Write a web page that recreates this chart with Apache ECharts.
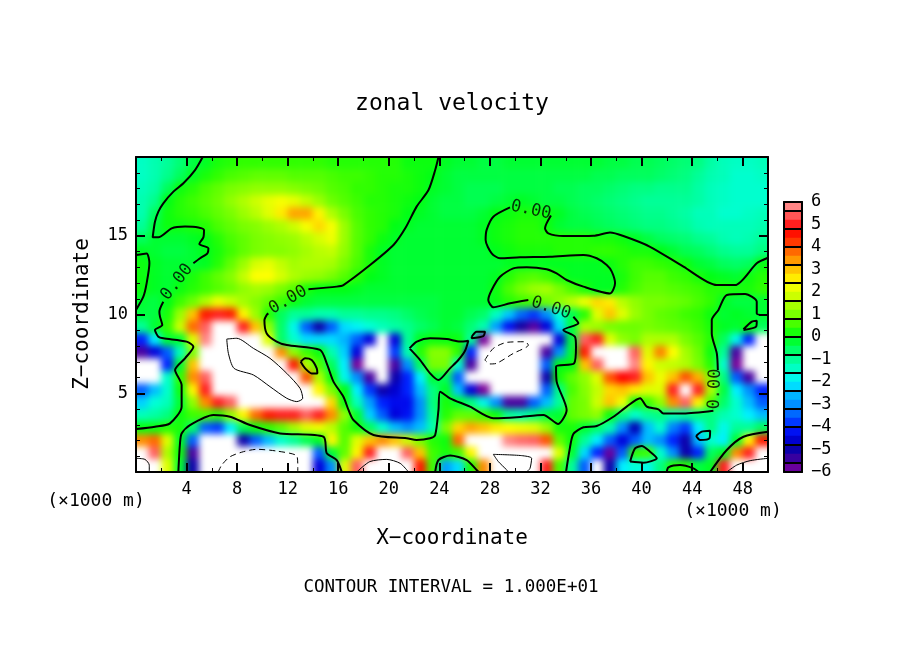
<!DOCTYPE html>
<html>
<head>
<meta charset="utf-8">
<style>html,body{margin:0;padding:0;background:#fff}#chart{width:904px;height:654px}</style>
<script src="https://cdn.jsdelivr.net/npm/echarts@6/dist/echarts.min.js"></script>
</head>
<body>
<div id="chart"></div>
<script>
// cell centres, 1 km wide and 0.8 km high
const xCentres = [];
for (let i = 0; i < 50; i++) xCentres.push(i + 0.5);
const zCentres = [19.6,18.8,18,17.2,16.4,15.6,14.8,14,13.2,12.4,11.6,10.8,10,9.2,8.4,7.6,6.8,6,5.2,4.4,3.6,2.8,2,1.2,0.4];

// velocity, one row per height (over 6 in size draws white)
const z196 = [-1.4,-1.2,-1,-.7,-.3,-.1,.2,.3,.4,.4,.4,.4,.4,.4,.4,.3,.3,.3,.3,.3,.3,.1,.1,.1,-.1,-.2,-.2,-.3,-.3,-.2,-.2,-.2,-.2,-.2,-.2,-.2,-.2,-.3,-.3,-.4,-.4,-.5,-.6,-.7,-.8,-1.1,-1.3,-1.4,-1.4,-1.3];
const z188 = [-1.4,-1.2,-.9,-.5,-.1,.2,.4,.6,.7,.8,.8,.8,.7,.7,.7,.6,.5,.5,.4,.3,.3,.2,.1,0,-.2,-.3,-.3,-.3,-.3,-.3,-.3,-.3,-.3,-.3,-.3,-.3,-.4,-.4,-.5,-.5,-.5,-.6,-.7,-.8,-1,-1.2,-1.3,-1.5,-1.5,-1.4];
const z180 = [-1.3,-1.1,-.5,.1,.3,.6,.8,1,1.1,1.2,1.2,1.2,1.1,1,.9,.7,.6,.4,.4,.3,.2,.2,.1,-.1,-.2,-.3,-.4,-.4,-.4,-.3,-.3,-.3,-.3,-.4,-.4,-.5,-.5,-.6,-.7,-.8,-.8,-.9,-.9,-.9,-1.1,-1.3,-1.4,-1.5,-1.5,-1.5];
const z172 = [-1.2,-.9,0,.3,.5,.7,.9,1.2,1.5,1.8,2.1,2.3,2.1,1.7,1.3,.9,.7,.5,.3,.3,.2,.1,0,-.2,-.3,-.3,-.4,-.4,-.3,-.2,-.1,-.2,-.3,-.3,-.4,-.5,-.6,-.7,-.8,-.9,-1,-1,-1,-1,-1.1,-1.3,-1.4,-1.5,-1.5,-1.5];
const z164 = [-1.2,-.5,.1,.3,.4,.6,.8,1,1.3,1.6,2,2.6,3.3,3.3,2.5,1.5,1,.6,.4,.3,.2,0,-.1,-.2,-.3,-.3,-.3,-.2,0,.1,.2,.2,.1,-.1,-.3,-.4,-.5,-.6,-.7,-.8,-.9,-.9,-1,-1.1,-1.3,-1.3,-1.5,-1.5,-1.4,-1.3];
const z156 = [-1,-.3,.1,.1,.2,.3,.6,.8,1,1.1,1.3,1.5,1.8,2.3,2.8,2.3,1.3,.7,.4,.3,0,-.1,-.2,-.2,-.2,-.2,-.2,-.1,.1,.2,.3,.3,.1,-.2,-.3,-.3,-.4,-.5,-.6,-.7,-.8,-.8,-.9,-1,-1.2,-1.3,-1.3,-1.3,-1.3,-1.2];
const z148 = [-.5,-.2,-.2,-.2,-.1,0,.3,.6,.8,1,1.1,1.2,1.3,1.6,1.9,2.2,1.3,.7,.4,.1,-.1,-.2,-.2,-.2,-.2,-.2,-.2,-.1,.1,.2,.3,.3,.3,.3,.3,.3,.2,.2,.1,-.1,-.3,-.5,-.6,-.7,-.9,-1,-1.2,-1.3,-1.2,-1];
const z140 = [-.1,-.2,-.3,-.3,-.2,-.05,.2,.5,.8,1,1.1,1.1,1.2,1.4,1.6,1.7,1.2,.7,.2,-.1,-.2,-.2,-.2,-.2,-.2,-.2,-.2,-.2,-.05,.1,.2,.2,.2,.3,.3,.3,.4,.4,.3,.2,.2,0,-.2,-.4,-.5,-.7,-.9,-1,-1,-.8];
const z132 = [.1,-.1,-.2,-.2,-.2,-.1,.3,.8,1.3,1.9,2.1,1.7,1.4,1.5,1.5,1.4,1,.6,.2,-.1,-.2,-.2,-.2,-.2,-.2,-.2,-.2,-.2,-.2,-.1,-.1,-.1,-.1,-.1,-.1,-.1,-.1,.1,.3,.5,.5,.4,.3,.1,-.2,-.3,-.5,-.6,-.5,.05];
const z124 = [.1,-.1,-.2,-.1,.2,.5,.8,1.1,1.7,2.4,2.4,1.9,1.5,1.3,1.2,1,.7,.3,0,-.1,-.2,-.2,-.2,-.2,-.2,-.2,-.2,-.2,-.1,.3,.6,.7,.5,.2,-.1,-.1,-.1,-.1,.2,.5,.7,.7,.5,.4,.2,0,-.1,-.2,.1,.3];
const z116 = [.1,-.1,-.2,.1,.3,.5,.7,.9,1.2,1.4,1.3,1,.7,.2,0,0,0,-.1,-.2,-.2,-.2,-.2,-.2,-.2,-.2,-.2,-.2,-.2,.1,.6,1,1.3,1.4,1,.6,.2,-.1,-.1,.3,.6,.8,.8,.7,.6,.5,.3,.3,.2,.2,.4];
const z108 = [-.2,-.3,0,.5,.9,1.5,2.2,1.8,1.4,1.1,.8,.5,.1,-.2,-.3,-.3,-.3,-.3,-.3,-.3,-.3,-.3,-.3,-.3,-.2,-.2,-.2,-.2,.05,.3,.5,.6,.9,1.2,1.6,2.2,2.8,2.6,1.6,1.2,1,1,.9,.8,.6,.4,-.1,-.3,-.3,-.2];
const z100 = [-.3,-.3,.2,1.3,3,4.5,5,4.5,2.5,1.3,.3,-.5,-1,-1,-1.2,-1.2,-1,-1,-.9,-.9,-.8,-.6,-.4,-.3,-.2,-.2,-.4,-.6,-1.4,-2.4,-3.4,-3.8,-3,-1.6,-.4,.3,2,3,2,1.3,1,.8,.7,.5,.4,.1,-.2,-.1,-.2,-.2];
const z92 = [-1,-.2,.4,1.8,3.8,5.5,7,7,5,3,1.2,-.6,-1.8,-3.5,-5,-3.5,-2.2,-1.9,-1.6,-1.3,-1.1,-.9,-.6,-.4,-.2,-.3,-.7,-1.2,-2.8,-4.2,-5.2,-5.6,-4.5,-2.2,-.3,1.5,1.3,1,.9,.9,1,.9,.8,.7,.5,.2,-.1,-.2,.1,-.5];
const z84 = [-4,-2,-.2,-.2,2,5.8,7,7,7,6.2,2,-.6,-1.5,-2.2,-2.2,-2.2,-2.6,-3.5,-4.5,-6.5,-4.5,-1,-.1,.1,.05,.1,-1,-6,-7,-7,-7,-7,-7,-4.5,-.3,5.5,5,2,1.2,1,1.5,1.5,1.5,1,.7,.3,-.5,-1.8,-4,-6.5];
const z76 = [-5.5,-4.5,-3.5,-1.3,1,6.2,7,7,7,7,6.2,3.5,1.2,.5,.1,-1.2,-2.3,-4.5,-7,-7,-3.8,-1.2,.3,1.1,1.1,.4,-4,-6.5,-7,-7,-7,-7,-5.5,-3,-.2,4.5,7,7,7,5.5,2,3.6,2.4,1.4,.9,.1,-1,-5.5,-7,-7];
const z68 = [-7,-7,-4,-.2,3,7,7,7,7,7,7,7,4.5,1.5,.6,-.5,-2,-6,-7,-7,-5.5,-3,-.5,1,1,-1.5,-5.5,-7,-7,-7,-7,-6.5,-3.5,0,0,3,5.5,6.2,6.2,5.8,2.5,1.8,1.7,1.5,1,.3,-1.5,-6,-7,-7];
const z60 = [-7,-6.3,-1.5,.4,3.5,5.5,7,7,7,7,7,7,7,4,1.5,.1,-1.8,-3,-5.5,-6.3,-5,-4,-2,-.2,-.5,-3.5,-7,-7,-7,-7,-7,-7,-5,.2,.8,1.2,2,4,4.8,5,3,2.2,3,4,3.2,1,-.8,-3.5,-5.5,-6.5];
const z52 = [-3.5,-2.5,-1.5,.1,2.5,5,7,7,7,7,7,7,7,7,2.5,1,0,-2,-3.8,-5,-4.6,-4,-2.5,-.8,-.1,-2.5,-4.5,-6,-7,-7,-7,-6.5,-3.5,-.8,.6,1.1,1.7,2.8,3,2.6,2,2,5,7,5,1.5,-.3,-2,-3,-4];
const z44 = [-2.3,-1.6,-1.3,-.2,1.2,3.5,5,5.5,6.3,7,7,7,7,7,7,2.8,.1,-1.3,-2.8,-4,-4.3,-4.3,-3,-.8,.2,-.2,-.8,-1.8,-3,-5.5,-5.5,-3.5,-2.5,-1,.8,1,1.8,3,2.2,.1,.5,1.2,3.5,5.5,2.5,.6,-.6,-1.5,-2.5,-3.5];
const z36 = [-1.3,-1.1,-.8,.1,.5,.6,.3,1.2,2.5,3.8,4.5,5,5,5.5,5,3.5,1.2,-.2,-2.3,-3.5,-4.5,-4.2,-3,-1,.3,.8,.8,.5,.1,-1,-1.2,-.8,-.3,-.2,.8,1,1.2,.1,-.8,-1.5,-1,-.8,-1.2,-1,-.8,-.8,-1.2,-1.5,-2,-2.5];
const z28 = [.05,.1,.3,.2,-.6,-3.5,-3.8,-2,-.4,.1,.4,.8,1.4,2,2.2,1.6,.7,.2,-.5,-1.5,-2.5,-3,-2.5,-1.2,1,2.8,3.3,3,2.6,2.4,2.2,2,1.3,.2,.2,-.2,-.6,-1.2,-3,-4.8,-2.5,-1.5,-3.2,-3.8,-2,-.8,-1.8,-1,-1,-.5];
const z20 = [3.5,3.8,2,-.1,-3.5,-6.5,-7,-7,-5,-3.5,-2.5,-1.5,-1,-.4,-.1,2.5,.7,2,3,3.5,3,1.8,1,.3,.1,3.8,6.3,7,6.2,5.8,5.6,5.5,4,.8,.1,-1,-2,-3.5,-4.5,-3.5,-2.5,-3,-4,-5,-2.5,-1.5,-2,-.2,2.5,4.5];
const z12 = [7,5.5,1.5,.1,-5.5,-7,-7,-7,-7,-7,-7,-7,-7,-7,-3.5,-.2,.8,2.5,5,6.5,6.5,5.5,3,.5,.2,.5,2.5,7,7,7,7,7,6.5,2,-.2,-2.2,-4,-5.8,-3.5,.4,.5,-1.5,-3,-5,-4,-.5,-.1,3.5,5,6.2];
const z4 = [7,6.5,2,-.2,-5,-6.2,-7,-7,-7,-7,-7,-7,-7,-6.5,-4.5,-3,2,5.5,7,7,7,6.8,4.5,.5,-2.8,-2.2,.2,3.5,6.5,7,7,7,5,.6,-1,-3.5,-7,-5,-2,-1.6,-1.8,-.8,.3,.3,-.3,-.1,5,7,7,7];
const rows = [z196,z188,z180,z172,z164,z156,z148,z140,z132,z124,z116,z108,z100,z92,z84,z76,z68,z60,z52,z44,z36,z28,z20,z12,z4];

// zero contours, [x km, z km]
const zeroLeftTop = [[5.28,20],[4.67,19.17],[3.75,18.33],[2.96,17.8],[2.16,17.06],[1.77,16.53],[1.5,15.89],[1.32,14.9],[1.77,14.9],[2.82,15.47],[3.88,15.58],[4.93,15.53],[5.38,15.37],[5.33,14.9],[5.01,14.48],[5.73,14.2],[5.65,13.88],[5.07,13.57],[4.54,13.25]];
const zeroLeftLow = [[2.16,10.81],[1.85,10.18],[1.9,9.86],[2.08,9.33],[1.5,9.02],[1.77,8.59],[2.16,8.49],[4,8.28],[4.54,7.96],[3.88,7.22],[3.09,6.48],[3.61,5.52],[3.61,4.15],[2.69,3.09],[1.5,2.88],[0,2.73]];
const zeroEdge = [[0,13.78],[.84,13.88],[1.06,13.25],[.84,11.98],[.58,11.13],[0,10.29]];
const zeroTop = [[23.93,20],[23.67,19.17],[23.14,17.9],[22.2,16.85],[21.3,15.47],[20.37,14.41],[18.52,13.14],[16.41,11.87],[15.88,11.77],[13.64,11.6]];
const zeroMiddle = [[10.47,10.07],[10.34,9.97],[10.16,9.65],[10.34,8.8],[11.13,8.28],[11.93,8.06],[14.56,7.75],[15.09,6.9],[15.62,5.74],[16.41,4.78],[16.81,3.94],[17.2,3.3],[18.79,2.35],[21.42,2.14],[22.2,2.03],[23.27,2.14],[23.67,2.35],[23.93,3.94],[24.06,5.1],[24.84,4.68],[26.42,4.15],[28.27,3.41],[30.12,3.47],[32.23,3.62],[33.4,3.05],[34.07,3.94],[33.28,5.74],[33.23,6.69],[34.66,6.9],[34.81,7.96],[34.73,8.59],[33.81,9.02],[35,9.44],[34.6,9.86]];
const zeroHook = [[31.04,10.92],[29.59,10.71],[28.27,10.46],[27.87,10.92],[28.14,11.56],[28.8,12.4],[29.85,12.93],[30.91,13],[32.49,12.87],[33.28,12.61],[34.07,12.19],[35.4,11.77],[37.5,11.34],[37.9,11.98],[37.64,12.72],[37.24,13.14],[36.45,13.57],[35.4,13.78],[32.76,13.67],[30.38,13.63],[28.8,13.57],[28.14,13.88],[27.66,14.73],[27.74,15.37],[28.27,16.21],[29.59,16.8]];
const zeroRight = [[32.83,16.28],[32.36,15.47],[32.62,15.15],[33.81,14.98],[36.19,15],[37.5,15.2],[38.56,14.98],[40.67,14.3],[43.31,13.04],[45.95,11.87],[47.4,11.87],[49.11,13.25],[50,13.6]];
const zeroNotch = [[50,9.97],[49.11,10.07],[49.11,10.81],[48.19,11.3],[46.74,11.24],[46.08,10.29],[45.55,9.65],[45.55,8.8],[45.95,7.53],[46.03,6.48]];
const zeroLower = [[45.68,3.89],[43.31,3.72],[41.73,3.72],[41.33,3.98],[40.41,4.15],[39.88,4.68],[38.82,4.15],[37.77,3.51],[36.45,2.92],[35.4,2.84],[34.6,2.41],[34.3,1.4],[34.02,0]];
const zeroArcLeft = [[3.35,0],[3.48,1.82],[3.61,2.45],[4.27,2.98],[6.12,3.62],[7.44,3.51],[9.02,2.98],[11.4,2.45],[14.83,2.24],[15.09,1.19],[15.88,.76],[16.28,0]];
const zeroFoot = [[23.67,0],[23.93,.76],[24.85,1.04],[26.16,.76],[26.95,.13],[27.1,0]];
const zeroRightArc = [[45.42,0],[46.74,1.4],[48.06,2.24],[50,2.56]];
const lensA = [[13.03,7],[13.38,7.22],[13.9,7.11],[14.3,6.58],[14.35,6.26],[13.9,6.26],[13.38,6.58],[13.03,7]];
const lensB = [[21.64,7.85],[22.22,8.28],[23.27,8.49],[24.59,8.44],[25.63,8.28],[26.29,8.34],[26.03,7.7],[25.5,7.11],[24.84,6.58],[23.93,5.84],[23.27,6.26],[22.48,7.11],[21.64,7.85]];
const lensC = [[26.56,8.59],[26.95,8.91],[27.61,8.91],[27.48,8.63],[26.56,8.49],[26.56,8.59]];
const lensD = [[48.06,9.06],[48.72,9.55],[49.11,9.61],[49.06,9.23],[48.06,9.02],[48.06,9.06]];
const lensE = [[44.31,2.29],[44.76,2.56],[45.42,2.62],[45.37,2.14],[44.63,2.03],[44.31,2.29]];
const lensF = [[39.09,.66],[39.48,1.5],[40.01,1.65],[40.67,1.29],[41.2,.87],[40.14,.59],[39.09,.66]];
const lensG = [[41.99,0],[42.12,.3],[43.05,.44],[44.1,.23],[44.5,0]];
const zeroLines = [zeroLeftTop,zeroLeftLow,zeroEdge,zeroTop,zeroMiddle,zeroHook,zeroRight,zeroNotch,zeroLower,zeroArcLeft,zeroFoot,zeroRightArc,lensA,lensB,lensC,lensD,lensE,lensF,lensG];

// the thin lines inside the white patches
const solidA = [[7.18,8.44],[7.97,8.49],[9.29,7.85],[10.6,7.22],[11.93,6.26],[12.98,5.31],[13.19,4.68],[12.72,4.47],[11.93,4.68],[10.6,5.42],[9.29,6.16],[7.76,6.58],[7.31,7.53],[7.18,8.44]];
const solidB = [[17.47,0],[18.5,.66],[19.84,.8],[20.9,.55],[21.56,0]];
const solidC = [[0,.87],[.71,.8],[1.05,.44],[1.05,0]];
const solidD = [[29.46,0],[29.33,.13],[28.67,.66],[28.27,1.12],[30.51,1.04],[31.3,.87],[31.17,.23],[30.9,0]];
const solidE = [[46.74,0],[47.53,.44],[48.59,.72],[50,.87]];
const thinLines = [solidA,solidB,solidC,solidD,solidE];
const dashedA = [[6.5,0],[6.78,.44],[7.44,.97],[8.5,1.29],[9.55,1.44],[11.13,1.33],[12.72,1.02],[12.8,.34],[12.8,0]];
const dashedB = [[27.6,7.11],[28.27,7.85],[29.33,8.23],[30.78,8.27],[31.04,8.06],[29.85,7.53],[28.53,6.9],[28,6.86],[27.6,7.11]];
const dashLines = [dashedA,dashedB];

// contour labels: x km, z km, turn in degrees
const labelX = [3.24,12.03,31.25,32.83,45.81];
const labelZ = [12.06,10.92,16.63,10.41,5.27];
const labelTurn = [52,30,-12,-18,88];

// colour bar
const barCells = [5.8,5.4,5,4.6,4.2,3.8,3.4,3,2.6,2.2,1.8,1.4,1,.6,.2,-.2,-.6,-1,-1.4,-1.8,-2.2,-2.6,-3,-3.4,-3.8,-4.2,-4.6,-5,-5.4,-5.8];
const barEdges = [5.6,4.8,4,3.2,2.4,1.6,.8,0,-.8,-1.6,-2.4,-3.2,-4,-4.8,-5.6];
const colours = ['#7a0099','#5a00a0','#1800a0','#0000b4','#0000e6','#0020ff','#0050ff','#0080ff','#00a0ff','#00c8ff','#00f0ff','#00ffd8','#00ffb0','#00ff80','#00ff50','#00ff14','#30ff00','#60ff00','#90ff00','#b8ff00','#e0ff00','#ffff00','#ffd800','#ffb000','#ff8000','#ff5000','#ff2000','#ff0000','#ff4040','#ff6c6c','#ffa0a0'];

const FONT = '"DejaVu Sans Mono"';
// two spare cells round the edge so the softening does not fade at the frame
const PAD = 2;
const cellW = 632 / 50, cellH = 315 / 25;
const heatData = [];
const clamp = function (v, hi) { return Math.max(0, Math.min(hi, v)); };
for (let r = -PAD; r < rows.length + PAD; r++) {
  for (let c = -PAD; c < 50 + PAD; c++) {
    heatData.push([c + PAD, rows.length - 1 - r + PAD, rows[clamp(r, rows.length - 1)][clamp(c, 49)]]);
  }
}
const padCats = function (n) {
  const out = [];
  for (let i = 0; i < n + 2 * PAD; i++) out.push(i);
  return out;
};
const barData = barCells.map(function (v, i) { return [0, barCells.length - 1 - i, v]; });
const edgeData = [];
barEdges.forEach(function (v) {
  edgeData.push([0, v], [1, v], [null, null]);
});

function contourSeries(points, width, type) {
  return {
    type: 'line', xAxisIndex: 3, yAxisIndex: 3, data: points, showSymbol: false, symbol: 'none',
    smooth: 0.25, z: 4, silent: true, connectNulls: false,
    lineStyle: {color: '#000', width: width, type: type}
  };
}

function text(str, x, y, size, rotation) {
  return {
    type: 'text', x: x, y: y, rotation: rotation || 0, z: 20,
    style: {text: str, font: size + 'px ' + FONT, fill: '#000', align: 'center', verticalAlign: 'middle'}
  };
}

const series = [
  {type: 'heatmap', xAxisIndex: 0, yAxisIndex: 0, data: heatData, z: 1, zlevel: -1, silent: true,
    itemStyle: {borderWidth: 0}, progressive: 0},
  {type: 'heatmap', xAxisIndex: 1, yAxisIndex: 1, data: barData, z: 1, silent: true, progressive: 0},
  {type: 'line', xAxisIndex: 2, yAxisIndex: 2, data: edgeData, symbol: 'none', z: 4, silent: true,
    lineStyle: {color: '#000', width: 2}}
];
zeroLines.forEach(function (p) { series.push(contourSeries(p, 2, 'solid')); });
thinLines.forEach(function (p) { series.push(contourSeries(p, 1, 'solid')); });
dashLines.forEach(function (p) { series.push(contourSeries(p, 1, [6, 4])); });
series.push({
  type: 'scatter', xAxisIndex: 3, yAxisIndex: 3, symbolSize: 0, z: 5, silent: true,
  data: labelX.map(function (x, i) {
    return {
      value: [x, labelZ[i]],
      label: {show: true, position: 'inside', formatter: '0.00', rotate: labelTurn[i], fontFamily: FONT, fontSize: 17, color: '#000'}
    };
  })
});

const hiddenCat = function (grid, cats) {
  return {type: 'category', gridIndex: grid, data: cats, show: false, boundaryGap: true};
};
const plotLine = {show: true, onZero: false, lineStyle: {color: '#000', width: 2}};
const bigTick = function (len) {
  return {show: true, inside: true, length: len, lineStyle: {color: '#000', width: 2}};
};
const smallTick = function (n) {
  return {show: true, splitNumber: n, length: 4, lineStyle: {color: '#000', width: 1}};
};
const plain = {show: false};

const chart = echarts.init(document.getElementById('chart'));
chart.setOption({
  backgroundColor: '#fff',
  animation: false,
  visualMap: {
    type: 'continuous', show: false, seriesIndex: [0, 1], min: -6.01, max: 6.01, range: [-6, 6], dimension: 2,
    inRange: {color: colours}, outOfRange: {color: '#fff'}
  },
  grid: [
    {left: 136 - PAD * cellW, top: 157 - PAD * cellH, width: 632 + 2 * PAD * cellW, height: 315 + 2 * PAD * cellH},
    {left: 784, top: 202, width: 18, height: 270},
    {left: 784, top: 202, width: 18, height: 270},
    {left: 136, top: 157, width: 632, height: 315}
  ],
  xAxis: [
    hiddenCat(0, padCats(50)),
    hiddenCat(1, ['bar']),
    {type: 'value', gridIndex: 2, min: 0, max: 1, axisLine: plotLine, axisTick: plain, axisLabel: plain, splitLine: plain, z: 6},
    {type: 'value', gridIndex: 3, min: 0, max: 50, interval: 4, position: 'bottom', z: 6, axisLine: plotLine,
      axisTick: bigTick(9), minorTick: smallTick(2), splitLine: plain, minorSplitLine: plain,
      axisLabel: {margin: 9, fontFamily: FONT, fontSize: 17, color: '#000', showMinLabel: true, showMaxLabel: true,
        formatter: function (v) { return v > 0 && v < 50 ? String(v) : ''; }}},
    {type: 'value', gridIndex: 3, min: 0, max: 50, interval: 4, position: 'top', z: 6, axisLine: plotLine,
      axisTick: bigTick(9), minorTick: smallTick(2), splitLine: plain, axisLabel: plain},
    {type: 'value', gridIndex: 2, min: 0, max: 1, position: 'top', axisLine: plotLine, axisTick: plain, axisLabel: plain, splitLine: plain, z: 6}
  ],
  yAxis: [
    hiddenCat(0, padCats(25)),
    hiddenCat(1, barCells.slice().reverse()),
    {type: 'value', gridIndex: 2, min: -6, max: 6, interval: 1, position: 'right', z: 6, axisLine: plotLine, axisTick: plain, splitLine: plain,
      axisLabel: {margin: 9, fontFamily: FONT, fontSize: 17, color: '#000',
        formatter: function (v) { return String(v).replace('-', '\u2212'); }}},
    {type: 'value', gridIndex: 3, min: 0, max: 20, interval: 5, position: 'left', z: 6, axisLine: plotLine,
      axisTick: bigTick(9), minorTick: smallTick(5), splitLine: plain, minorSplitLine: plain,
      axisLabel: {margin: 8, fontFamily: FONT, fontSize: 17, color: '#000',
        formatter: function (v) { return v > 0 && v < 20 ? String(v) : ''; }}},
    {type: 'value', gridIndex: 3, min: 0, max: 20, interval: 5, position: 'right', z: 6, axisLine: plotLine,
      axisTick: bigTick(9), minorTick: smallTick(5), splitLine: plain, axisLabel: plain},
    {type: 'value', gridIndex: 2, min: -6, max: 6, interval: 12, position: 'left', z: 6, axisLine: plotLine, axisTick: plain, axisLabel: plain, splitLine: plain}
  ],
  series: series,
  graphic: [
    text('zonal velocity', 452, 104, 23),
    text('X\u2212coordinate', 452, 539, 21),
    text('Z\u2212coordinate', 83, 314, 21, Math.PI / 2),
    text('CONTOUR INTERVAL = 1.000E+01', 451, 587, 17.5),
    text('(\u00d71000 m)', 96, 501, 18),
    text('(\u00d71000 m)', 733, 511, 18)
  ]
});

// the heat cells sit on their own canvas layer: soften it and trim it to the frame
const heatLayer = document.querySelector('#chart canvas');
heatLayer.style.filter = 'blur(3.8px)';
heatLayer.style.clipPath = 'inset(157px 136px 182px 136px)';
</script>
</body>
</html>
